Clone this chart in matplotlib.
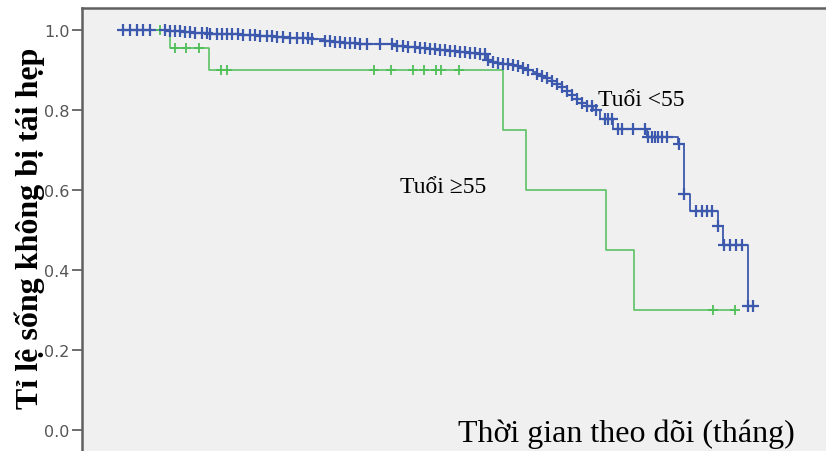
import numpy as np
from matplotlib import pyplot as plt

# Tuổi <55 : thời điểm biến cố (tháng) và tỉ lệ sống sau biến cố
young_time = [0, 10, 12.4, 15, 18, 21.4, 24.6, 28, 31.4, 34, 36.6,
              38.4, 41, 43, 45, 48, 52, 55.4, 57.6, 60, 62, 64, 66, 68, 70, 72,
              73.2, 74.6, 75.6, 76.6, 77.6, 78.6, 79.6, 80.6, 81.6, 82.6, 83.4,
              84.4, 85.4, 86.4, 87.4, 88.4, 89.4, 90.4, 91.4, 92.4, 93.4, 94.6,
              96, 98.6, 105.4, 111.6, 112.8, 114, 119.6, 120.6, 125.6]
young_surv = [1.0, 0.997, 0.995, 0.993, 0.991, 0.989, 0.987, 0.985, 0.983, 0.981, 0.979,
              0.977, 0.973, 0.970, 0.968, 0.966, 0.964, 0.961, 0.958, 0.955, 0.952, 0.950,
              0.948, 0.946, 0.943, 0.940,
              0.925, 0.920, 0.918, 0.916, 0.914, 0.912, 0.910, 0.906, 0.901, 0.896, 0.891,
              0.885, 0.879, 0.872, 0.866, 0.858, 0.848, 0.838, 0.828, 0.818, 0.810, 0.800,
              0.777, 0.752, 0.733, 0.715, 0.59, 0.548, 0.51, 0.463, 0.31]
# các ca kiểm duyệt (censored)
young_cens = [0.6, 2, 3.4, 4.6, 6, 9, 10, 11, 12, 13, 14, 15, 16.4, 17.4, 18, 19.4,
              20.4, 21.4, 22.4, 23.6, 24.6, 26, 27, 28, 29.4, 30.4, 31.4, 32.6, 34,
              35.4, 36.6, 37.6, 38.4, 41, 42, 43, 44, 45, 46, 47, 48, 49.4, 52, 54.4,
              55.4, 56.6, 57.6, 59, 60, 61, 62, 63, 64, 65, 66, 67, 68, 69, 70, 71,
              72, 73, 73.6, 74.6, 75.6, 76.6, 77.6, 78.6, 79.6, 80.6, 81.6, 83.4,
              84.4, 85.4, 86.4, 87.4, 88.4, 89.4, 90.4, 91.4, 92.4, 93.4, 94.4, 95.2,
              97, 97.6, 98.4, 99.6, 100.4, 102.6, 105, 105.6, 106.4, 107, 107.6,
              108.4, 109.4, 111.8, 112.8, 115.2, 116.4, 117.4, 118.4, 119.6, 120.8,
              122, 123.2, 124.4, 125.6, 126.6]

# Tuổi >=55
old_time = [0, 10, 17.8, 76.6, 81.2, 97.2, 102.8]
old_surv = [1.0, 0.955, 0.90, 0.75, 0.60, 0.45, 0.30]
old_cens = [8, 11, 13.2, 15.8, 20.2, 21.4, 50.8, 54.2, 58.6, 60.8, 63.2, 64.2,
            67.8, 118.6, 123]

yticks = [0.0, 0.2, 0.4, 0.6, 0.8, 1.0]


def draw_km(ax, times, surv, cens, color, lw, ms, mew):
    t = list(times) + [max(cens)]
    s = list(surv) + [surv[-1]]
    ax.step(t, s, where="post", color=color, lw=lw, zorder=3)
    idx = np.searchsorted(times, cens, side="right") - 1
    cy = np.array(surv)[idx]
    ax.plot(cens, cy, ls="none", marker="+", ms=ms, mew=mew, color=color, zorder=4)


fig = plt.figure(figsize=(8.26, 4.52), dpi=100)
ax = fig.add_axes([82 / 826, -19 / 452, 758 / 826, 462 / 452])
ax.set_facecolor("#f0f0f0")

draw_km(ax, old_time, old_surv, old_cens, "#4fbf57", 1.1, 7, 1.3)
draw_km(ax, young_time, young_surv, young_cens, "#3d59ad", 1.3, 8, 1.6)

ax.set_xlim(-7.6, 144)
ax.set_ylim(-0.1, 1.055)
ax.set_xticks([])
ax.set_yticks(yticks)
ax.set_yticklabels([f"{v:.1f}" for v in yticks])
ax.tick_params(axis="y", direction="out", length=7, width=1.2, color="#555555",
               labelcolor="#555555", labelsize=11.5, pad=2)
for side in ["left", "top"]:
    ax.spines[side].set_color("#606060")
    ax.spines[side].set_linewidth(1.8)
ax.spines["right"].set_visible(False)
ax.spines["bottom"].set_visible(False)

serif = "Liberation Serif"
ax.text(95.6, 0.8125, "Tuổi <55", family=serif, fontsize=17, va="baseline")
ax.text(56, 0.595, "Tuổi ≥55", family=serif, fontsize=17, va="baseline")
ax.text(67.6, -0.0275, "Thời gian theo dõi (tháng)", family=serif, fontsize=23,
        va="baseline")

fig.text(30 / 826, 1 - 228 / 452, "Tỉ lệ sống không bị tái hẹp", family=serif,
         fontsize=23, fontweight="bold", rotation=90, ha="center", va="center")

fig.savefig("out.png", dpi=100)
